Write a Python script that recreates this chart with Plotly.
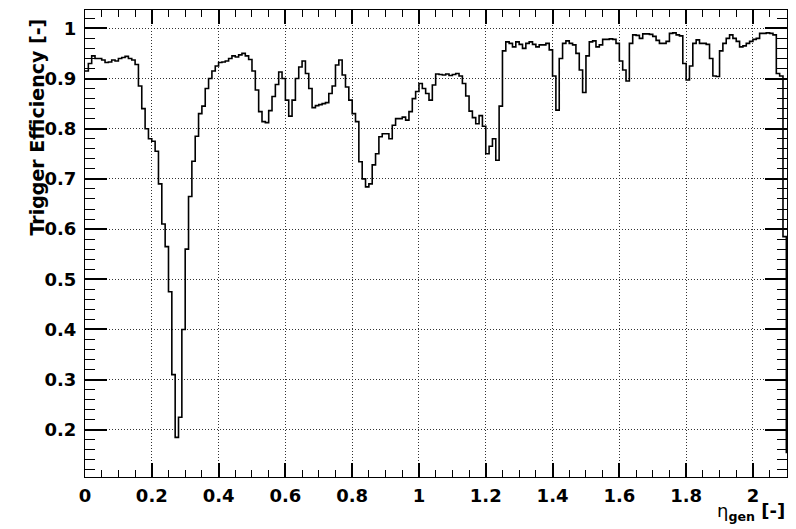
import numpy as np
import plotly.graph_objects as go

# Binning in generated pseudorapidity (bin width 0.01)
bin_width = 0.01
eta_lo = np.round(np.arange(0.0, 2.105, bin_width), 2)

# Trigger efficiency per eta bin
efficiency = [
    0.915, 0.930, 0.945, 0.940, 0.940, 0.937, 0.932, 0.933, 0.937, 0.935,
    0.940, 0.942, 0.944, 0.940, 0.937, 0.928, 0.885, 0.840, 0.800, 0.780,
    0.775, 0.755, 0.690, 0.610, 0.565, 0.475, 0.310, 0.185, 0.225, 0.400,
    0.560, 0.665, 0.735, 0.785, 0.830, 0.845, 0.880, 0.900, 0.915, 0.925,
    0.932, 0.933, 0.935, 0.940, 0.945, 0.943, 0.947, 0.950, 0.945, 0.938,
    0.915, 0.877, 0.834, 0.814, 0.812, 0.836, 0.864, 0.888, 0.913, 0.900,
    0.857, 0.825, 0.857, 0.900, 0.923, 0.935, 0.910, 0.880, 0.842, 0.846,
    0.848, 0.850, 0.852, 0.870, 0.885, 0.927, 0.937, 0.907, 0.883, 0.857,
    0.830, 0.814, 0.734, 0.700, 0.684, 0.690, 0.728, 0.750, 0.784, 0.790,
    0.790, 0.780, 0.807, 0.820, 0.820, 0.823, 0.817, 0.834, 0.860, 0.874,
    0.890, 0.880, 0.870, 0.857, 0.887, 0.909, 0.908, 0.907, 0.909, 0.906,
    0.908, 0.910, 0.905, 0.890, 0.865, 0.835, 0.822, 0.810, 0.826, 0.805,
    0.750, 0.765, 0.780, 0.737, 0.845, 0.955, 0.973, 0.970, 0.963, 0.973,
    0.968, 0.960, 0.970, 0.973, 0.968, 0.963, 0.967, 0.967, 0.970, 0.957,
    0.905, 0.837, 0.940, 0.970, 0.975, 0.970, 0.967, 0.950, 0.917, 0.872,
    0.945, 0.973, 0.975, 0.963, 0.967, 0.978, 0.978, 0.979, 0.978, 0.970,
    0.935, 0.917, 0.895, 0.970, 0.987, 0.986, 0.980, 0.989, 0.989, 0.988,
    0.984, 0.976, 0.970, 0.970, 0.974, 0.990, 0.991, 0.987, 0.985, 0.930,
    0.897, 0.925, 0.970, 0.977, 0.970, 0.970, 0.968, 0.940, 0.905, 0.904,
    0.955, 0.970, 0.980, 0.987, 0.980, 0.974, 0.963, 0.965, 0.970, 0.974,
    0.978, 0.980, 0.990, 0.990, 0.991, 0.990, 0.987, 0.910, 0.905, 0.585,
    0.155,
]

x_range = [0.0, 2.102]
y_range = [0.106, 1.0365]

# Step outline: every bin drawn from its low edge to its high edge
edges = list(eta_lo) + [round(float(eta_lo[-1]) + bin_width, 2)]
steps = list(efficiency) + [efficiency[-1]]

font_family = "DejaVu Sans"

fig = go.Figure()
fig.add_trace(go.Scatter(
    x=edges, y=steps, mode="lines",
    line=dict(color="black", width=1.6, shape="hv"),
    showlegend=False, hoverinfo="skip",
))

axis_common = dict(
    showline=True, linecolor="black", linewidth=1.2, mirror="ticks",
    ticks="inside", tickcolor="black", tickwidth=1.5,
    showgrid=True, gridcolor="#333333", gridwidth=1, griddash="1px,2px",
    zeroline=False, layer="above traces",
    tickfont=dict(family=font_family, size=18, color="black", weight="bold"),
)

fig.update_xaxes(
    range=x_range, tick0=0, dtick=0.2, ticklen=14,
    minor=dict(ticks="inside", dtick=0.05, ticklen=7, tickcolor="black",
               tickwidth=1.2, showgrid=False),
    ticklabelstandoff=2,
    **axis_common,
)
fig.update_yaxes(
    range=y_range, tick0=0, dtick=0.1, ticklen=22,
    minor=dict(ticks="inside", dtick=0.02, ticklen=10, tickcolor="black",
               tickwidth=1.2, showgrid=False),
    ticklabelstandoff=4,
    **axis_common,
)

fig.add_annotation(
    text="Trigger Efficiency [-]", textangle=-90,
    xref="paper", yref="paper", x=-0.0684, y=0.7505,
    xanchor="center", yanchor="middle", showarrow=False,
    font=dict(family=font_family, size=19, color="black", weight="bold"),
)
fig.add_annotation(
    text='<span style="font-weight:normal">η</span><sub>gen</sub> [-]',
    xref="paper", yref="paper", x=1.0, y=-0.1055,
    xanchor="right", yanchor="bottom", showarrow=False,
    font=dict(family=font_family, size=18, color="black", weight="bold"),
)

fig.update_layout(
    width=796, height=529,
    margin=dict(l=85, r=9, t=10, b=52),
    paper_bgcolor="white", plot_bgcolor="white",
)

fig.write_html("out.html")
